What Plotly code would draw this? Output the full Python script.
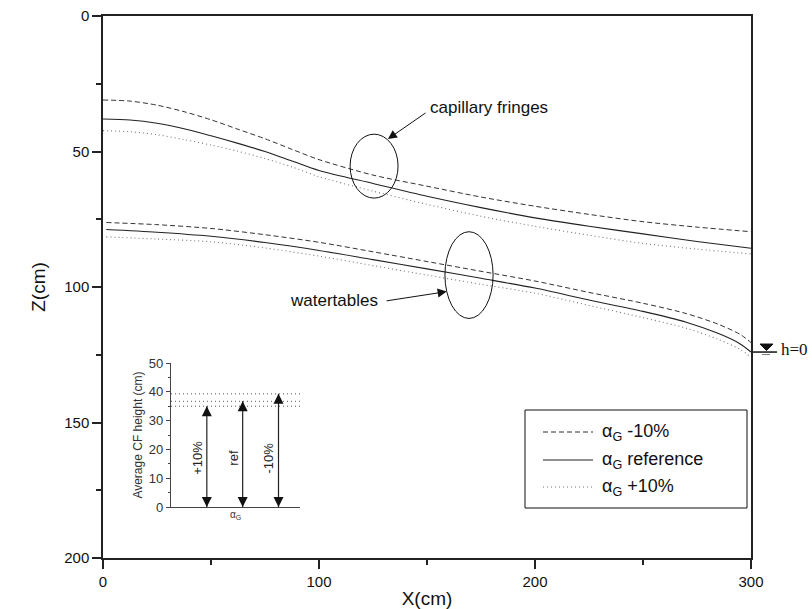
import plotly.graph_objects as go

# ---------------- data ----------------
cf_x = [0, 12.5, 25, 37.5, 50, 62.5, 75, 87.5, 100, 125, 150, 175, 200, 225, 250, 275, 300]
cf_minus10 = [31, 31.4, 32.9, 35.3, 38.3, 41.8, 45.3, 49.2, 53.0, 58.7, 62.8, 66.8, 70.2, 73.2, 75.9, 77.9, 79.6]
cf_ref = [38, 38.4, 39.6, 41.6, 44.2, 47.0, 50.0, 53.5, 57.0, 61.8, 66.5, 70.7, 74.5, 77.6, 80.4, 83.2, 85.7]
cf_plus10 = [42.3, 42.7, 43.8, 45.6, 47.6, 49.9, 52.6, 55.7, 59.3, 64.6, 69.5, 73.9, 77.6, 80.9, 83.9, 86.0, 87.8]

wt_x = [1.5, 25, 50, 75, 100, 125, 150, 175, 200, 225, 250, 270, 285, 295, 300]
wt_minus10 = [76.2, 77.0, 78.4, 80.7, 83.5, 87.0, 90.6, 94.2, 97.8, 102.0, 106.0, 109.8, 113.8, 117.5, 120.5]
wt_ref = [78.8, 79.8, 81.3, 83.6, 86.5, 89.9, 93.3, 96.8, 100.4, 104.8, 109.0, 113.0, 117.2, 121.0, 124.0]
wt_plus10 = [81.5, 82.3, 83.3, 85.6, 88.6, 92.1, 95.6, 99.0, 102.3, 106.8, 111.3, 115.2, 119.4, 123.0, 126.0]

inset_pos = [1, 2, 3]
inset_heights = [35.0, 36.7, 39.3]
inset_labels = ["+10%", "ref", "-10%"]

h0_level = 124.0

x_ticks = [0, 100, 200, 300]
y_ticks = [0, 50, 100, 150, 200]
inset_ticks = [0, 10, 20, 30, 40, 50]

legend_labels = ["α<sub>G</sub> -10%", "α<sub>G</sub> reference", "α<sub>G</sub> +10%"]

FONT = "Arial, Liberation Sans, sans-serif"
styles = [dict(color="#333333", width=1, dash="5px,3px"),
          dict(color="#222222", width=1.1, dash="solid"),
          dict(color="#777777", width=1.1, dash="1px,3px")]

fig = go.Figure()

for ys, st in zip([cf_minus10, cf_ref, cf_plus10], styles):
    fig.add_trace(go.Scatter(x=cf_x, y=ys, mode="lines", line=dict(shape="spline", smoothing=0.8, **st),
                             showlegend=False, hoverinfo="skip"))
for ys, st in zip([wt_minus10, wt_ref, wt_plus10], styles):
    fig.add_trace(go.Scatter(x=wt_x, y=ys, mode="lines", line=dict(shape="spline", smoothing=0.8, **st),
                             showlegend=False, hoverinfo="skip"))

# inset: dotted reference lines
for h in inset_heights:
    fig.add_trace(go.Scatter(x=[0, 3.6], y=[h, h], xaxis="x2", yaxis="y2", mode="lines",
                             line=dict(color="#555555", width=1, dash="1px,3px"),
                             showlegend=False, hoverinfo="skip"))
# inset: double arrows
for p, h in zip(inset_pos, inset_heights):
    fig.add_trace(go.Scatter(x=[p, p], y=[0, h], xaxis="x2", yaxis="y2", mode="lines",
                             line=dict(color="#222222", width=1.2),
                             showlegend=False, hoverinfo="skip"))
    fig.add_trace(go.Scatter(x=[p, p], y=[h, 0], xaxis="x2", yaxis="y2", mode="markers",
                             marker=dict(symbol=["arrow-up", "arrow-down"], size=10, color="#111111"),
                             showlegend=False, hoverinfo="skip", cliponaxis=False))

shapes = []
annotations = []

# ellipses
shapes.append(dict(type="circle", xref="x", yref="y", x0=114.4, x1=136.6, y0=43.6, y1=67.2,
                   line=dict(color="#111111", width=1)))
shapes.append(dict(type="circle", xref="x", yref="y", x0=158.3, x1=180.6, y0=79.6, y1=111.6,
                   line=dict(color="#111111", width=1)))

# annotation arrows
annotations.append(dict(x=131.9, y=45.4, ax=150, ay=35.4, xref="x", yref="y", axref="x", ayref="y",
                        text="", showarrow=True, arrowhead=2, arrowsize=1.8, arrowwidth=1, arrowcolor="#111111"))
annotations.append(dict(x=150.5, y=33.6, xref="x", yref="y", text="capillary fringes", showarrow=False,
                        xanchor="left", yanchor="middle", font=dict(family=FONT, size=17, color="#111111")))
annotations.append(dict(x=159.1, y=101.7, ax=130.6, ay=105.2, xref="x", yref="y", axref="x", ayref="y",
                        text="", showarrow=True, arrowhead=2, arrowsize=1.8, arrowwidth=1, arrowcolor="#111111"))
annotations.append(dict(x=128.2, y=104.8, xref="x", yref="y", text="watertables", showarrow=False,
                        xanchor="right", yanchor="middle", font=dict(family=FONT, size=17, color="#111111")))

# inset arrow labels
for p, lab in zip(inset_pos, inset_labels):
    annotations.append(dict(x=p - 0.28, y=17, xref="x2", yref="y2", text=lab, textangle=-90, showarrow=False,
                            xanchor="center", yanchor="middle", font=dict(family=FONT, size=13, color="#222222")))

# h=0 marker
shapes.append(dict(type="line", xref="paper", yref="y", xsizemode="pixel", xanchor=1, x0=2, x1=26,
                   y0=h0_level, y1=h0_level, line=dict(color="#111111", width=1.5)))
shapes.append(dict(type="line", xref="paper", yref="y", xsizemode="pixel", ysizemode="pixel", xanchor=1,
                   yanchor=h0_level, x0=11, x1=19, y0=-2.5, y1=-2.5, line=dict(color="#777777", width=1)))
shapes.append(dict(type="path", xref="paper", yref="y", xsizemode="pixel", ysizemode="pixel", xanchor=1,
                   yanchor=h0_level, path="M9,8 L22,8 L15.5,1.5 Z", fillcolor="#111111",
                   line=dict(color="#111111", width=1)))
annotations.append(dict(x=1, y=h0_level, xref="paper", yref="y", xshift=28, yshift=3, text="h=0",
                        showarrow=False, xanchor="left", yanchor="middle",
                        font=dict(family="Liberation Serif, Times New Roman, serif", size=17, color="#111111")))

# legend box (manual)
L, R, T, B = 525, 747, 410, 508
W, H = 812, 609
ml, mr, mt, mb = 103, 61, 16, 51
pw, ph = W - ml - mr, H - mt - mb
def px2paper(x, y):
    return (x - ml) / pw, (H - mb - y) / ph
x0p, y0p = px2paper(L, B)
x1p, y1p = px2paper(R, T)
shapes.append(dict(type="rect", xref="paper", yref="paper", x0=x0p, x1=x1p, y0=y0p, y1=y1p,
                   line=dict(color="#111111", width=1), fillcolor="white", layer="above"))
entry_y = [432, 460, 487]
for lab, st, ey in zip(legend_labels, styles, entry_y):
    a0, b0 = px2paper(543, ey)
    a1, _ = px2paper(593, ey)
    shapes.append(dict(type="line", xref="paper", yref="paper", x0=a0, x1=a1, y0=b0, y1=b0,
                       line=dict(color=st["color"], width=st["width"], dash=st["dash"]), layer="above"))
    tx, ty = px2paper(600, ey)
    annotations.append(dict(x=tx, y=ty, xref="paper", yref="paper", text=lab, showarrow=False,
                            xanchor="left", yanchor="middle", font=dict(family=FONT, size=18, color="#111111")))

axis_common = dict(showline=True, linecolor="#222222", linewidth=1.5, mirror=True, showgrid=False,
                   zeroline=False, ticks="outside", ticklen=9, tickwidth=1.5, tickcolor="#222222",
                   tickfont=dict(family=FONT, size=15, color="#111111"))

fig.update_layout(
    width=W, height=H, margin=dict(l=ml, r=mr, t=mt, b=mb, autoexpand=False),
    paper_bgcolor="white", plot_bgcolor="white", showlegend=False,
    xaxis=dict(range=[0, 300], tickvals=x_ticks, domain=[0, 1],
               minor=dict(dtick=50, tick0=0, ticks="outside", ticklen=5, tickwidth=1.5, tickcolor="#222222"),
               title=dict(text="X(cm)", font=dict(family=FONT, size=19, color="#111111"), standoff=6),
               **axis_common),
    yaxis=dict(range=[200, 0], tickvals=y_ticks, domain=[0, 1],
               minor=dict(dtick=25, tick0=0, ticks="outside", ticklen=5, tickwidth=1.5, tickcolor="#222222"),
               title=dict(text="Z(cm)", font=dict(family=FONT, size=19, color="#111111"), standoff=14),
               **axis_common),
    xaxis2=dict(domain=[(171 - ml) / pw, (300 - ml) / pw], anchor="y2", range=[0, 3.6],
                showline=True, linecolor="#444444", linewidth=1.2, showgrid=False, zeroline=False,
                showticklabels=False, ticks="",
                title=dict(text="α<sub>G</sub>", font=dict(family=FONT, size=10, color="#333333"), standoff=3)),
    yaxis2=dict(domain=[(H - mb - 507) / ph, (H - mb - 363) / ph], anchor="x2", range=[0, 50],
                tickvals=inset_ticks, showline=True, linecolor="#444444", linewidth=1.2, showgrid=False,
                zeroline=False, ticks="outside", ticklen=4, tickwidth=1, tickcolor="#444444",
                minor=dict(dtick=5, tick0=0, ticks="outside", ticklen=2, tickcolor="#444444"),
                tickfont=dict(family=FONT, size=13, color="#333333"),
                title=dict(text="Average CF height (cm)", font=dict(family=FONT, size=12, color="#333333"),
                           standoff=3)),
    shapes=shapes, annotations=annotations,
)

fig.write_html("out.html")
